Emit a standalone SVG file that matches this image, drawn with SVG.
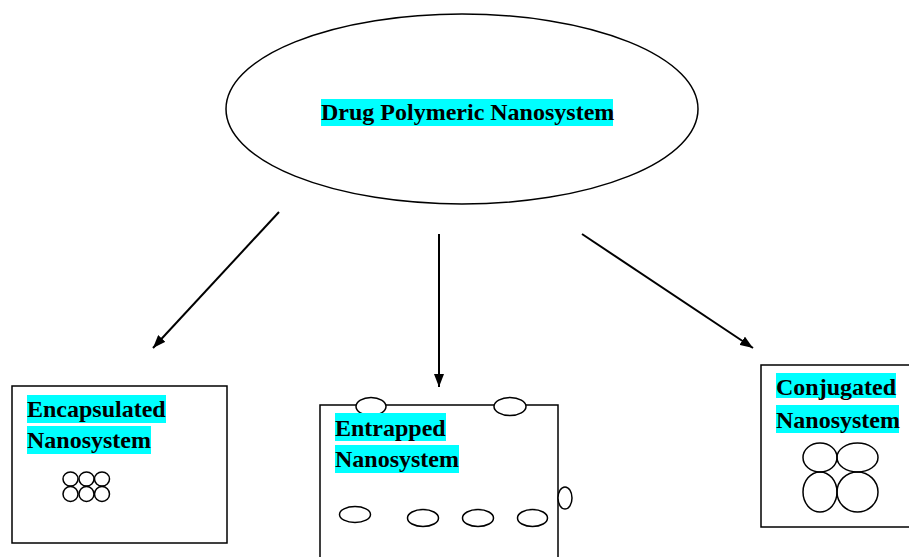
<svg xmlns="http://www.w3.org/2000/svg" width="909" height="557" viewBox="0 0 909 557">
<defs>
<style>
.lbl{font-family:"Liberation Serif","Times New Roman",serif;font-weight:bold;font-size:24px;fill:#000}
.hl{fill:#00ffff}
.box{fill:#fff;stroke:#000;stroke-width:1.5}
.ov{fill:#fff;stroke:#000;stroke-width:1.5}
.conn{stroke:#000;stroke-width:2;fill:none;marker-end:url(#ah)}
</style>
<marker id="ah" viewBox="0 0 13 10" refX="13" refY="5" markerWidth="13" markerHeight="10" markerUnits="userSpaceOnUse" orient="auto">
<path d="M0,0 L13,5 L0,10 Z" fill="#000"/>
</marker>
</defs>
<rect width="909" height="557" fill="#fff"/>
<g id="root">
<ellipse class="ov" cx="462" cy="109" rx="236" ry="95"/>
<rect class="hl" x="321" y="99" width="292" height="27"/>
<text class="lbl" x="321" y="119.5">Drug Polymeric Nanosystem</text>
</g>
<g id="connectors">
<line class="conn" x1="279" y1="212" x2="153" y2="348"/>
<line class="conn" x1="439" y1="234" x2="439" y2="387"/>
<line class="conn" x1="582" y1="234" x2="753" y2="348"/>
</g>
<g id="encapsulated">
<rect class="box" x="12" y="386" width="215" height="157"/>
<rect class="hl" x="27" y="395" width="139" height="28"/>
<rect class="hl" x="27" y="426" width="124" height="28"/>
<text class="lbl" x="27" y="416.5">Encapsulated</text>
<text class="lbl" x="27" y="448">Nanosystem</text>
<g fill="none" stroke="#000" stroke-width="1.5">
<ellipse cx="70.5" cy="479" rx="7.5" ry="7"/>
<ellipse cx="86.5" cy="479" rx="7.5" ry="7"/>
<ellipse cx="102" cy="479" rx="7.5" ry="7"/>
<ellipse cx="70.5" cy="494" rx="7.5" ry="7.5"/>
<ellipse cx="86.5" cy="494" rx="7.5" ry="7.5"/>
<ellipse cx="102" cy="494" rx="7.5" ry="7.5"/>
</g>
</g>
<g id="entrapped">
<rect class="box" x="320" y="405" width="238" height="160"/>
<ellipse class="ov" cx="371" cy="406.5" rx="15" ry="9"/>
<ellipse class="ov" cx="510" cy="406.5" rx="16" ry="9"/>
<ellipse class="ov" cx="565" cy="498" rx="7" ry="11"/>
<ellipse class="ov" cx="355" cy="514.5" rx="15.5" ry="8"/>
<ellipse class="ov" cx="423" cy="518" rx="15.5" ry="8.5"/>
<ellipse class="ov" cx="478" cy="518" rx="15.5" ry="8.5"/>
<ellipse class="ov" cx="532.5" cy="518" rx="15" ry="8.5"/>
<rect class="hl" x="335" y="413" width="111" height="28"/>
<rect class="hl" x="335" y="445" width="124" height="28"/>
<text class="lbl" x="335" y="435.5">Entrapped</text>
<text class="lbl" x="335" y="466.5">Nanosystem</text>
</g>
<g id="conjugated">
<rect class="box" x="761" y="365" width="160" height="162"/>
<rect class="hl" x="776" y="373" width="120" height="25"/>
<rect class="hl" x="776" y="405" width="123" height="28"/>
<text class="lbl" x="776" y="395">Conjugated</text>
<text class="lbl" x="776" y="427.5">Nanosystem</text>
<g fill="none" stroke="#000" stroke-width="1.5">
<ellipse cx="820" cy="457.5" rx="17" ry="14.5"/>
<ellipse cx="857.5" cy="457.5" rx="20.5" ry="14.5"/>
<ellipse cx="820" cy="492" rx="17" ry="20"/>
<ellipse cx="857.5" cy="492" rx="20.5" ry="20"/>
</g>
</g>
</svg>
